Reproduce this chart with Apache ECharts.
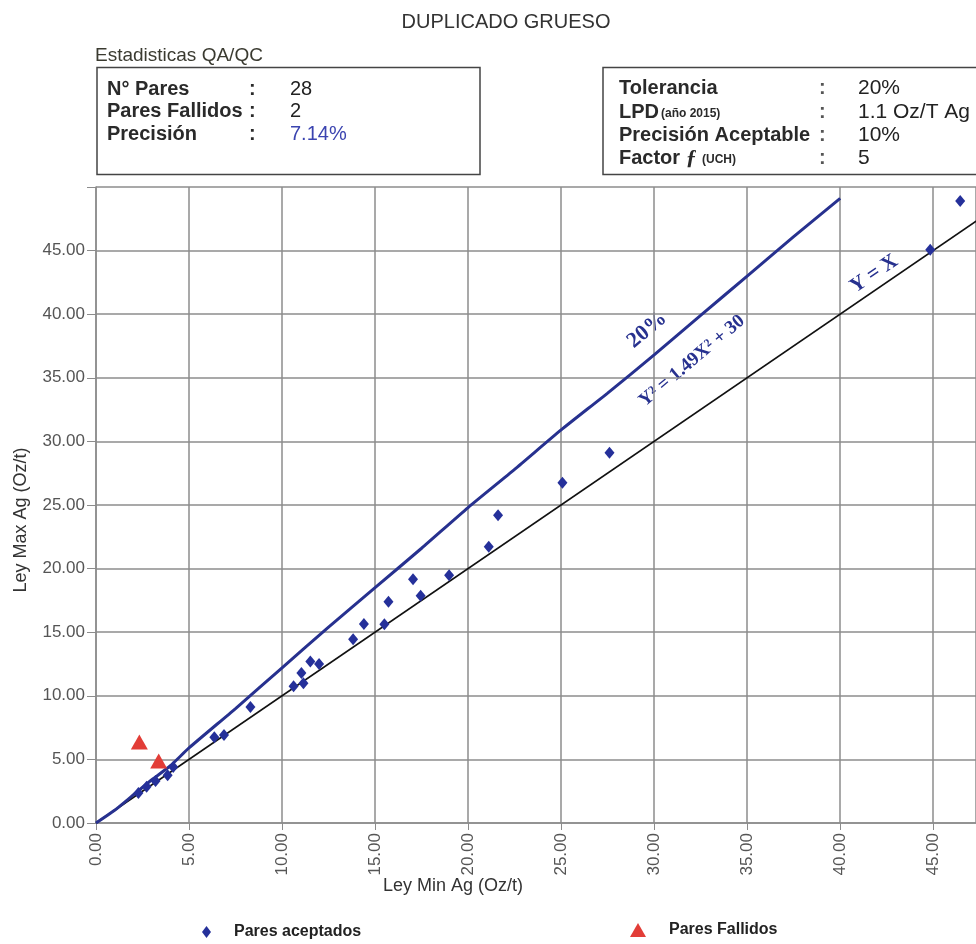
<!DOCTYPE html>
<html>
<head>
<meta charset="utf-8">
<script src="https://cdn.jsdelivr.net/npm/echarts@6/dist/echarts.min.js"></script>
<style>
  html, body { margin: 0; padding: 0; background: #fff; }
  #chart { width: 976px; height: 944px; }
</style>
</head>
<body>
<div id="chart"></div>
<script>
// pares aceptados (ley min, ley max)
var acceptedMin = [2.28, 2.72, 3.20, 3.85, 4.15, 6.36, 6.88, 8.30, 10.62, 11.15, 11.04, 11.52, 11.99,
  13.82, 14.40, 15.50, 15.72, 17.45, 17.04, 18.98, 21.11, 21.61, 25.07, 27.60, 44.84, 46.45];
var acceptedMax = [2.35, 2.85, 3.30, 3.75, 4.40, 6.75, 6.92, 9.11, 10.75, 10.98, 11.80, 12.70, 12.50,
  14.44, 15.64, 15.63, 17.40, 17.87, 19.16, 19.47, 21.71, 24.19, 26.75, 29.10, 45.06, 48.90];
// pares fallidos
var failedMin = [2.33, 3.37];
var failedMax = [6.37, 4.88];
// curva de tolerancia 20%
var tolMin = [0, 1, 2, 3, 4, 5, 7.5, 10, 12.5, 15, 17.5, 20, 22.5, 25, 27.5, 30, 32.5, 35, 37.5, 40];
var tolMax = [0, 1.0, 2.2, 3.4, 4.5, 5.9, 9.0, 12.2, 15.4, 18.5, 21.6, 24.8, 27.8, 30.9, 33.8, 36.8, 39.9, 43.0, 46.1, 49.1];
// recta Y = X
var idMin = [0, 50];
var idMax = [0, 50];

function pairs(a, b) {
  return a.map(function (v, i) { return [v, b[i]]; });
}

var navy = '#27318f';
var gridColor = '#8c8c8c';
var sans = 'Liberation Sans, Arial, sans-serif';
var serif = 'Liberation Serif, Times New Roman, serif';

var chart = echarts.init(document.getElementById('chart'));

function txt(x, y, text, font, fill, align) {
  return {
    type: 'text', x: x, y: y,
    style: { text: text, font: font, fill: fill || '#2a2a2a', align: align || 'left', verticalAlign: 'middle' }
  };
}

var deg = Math.PI / 180;

chart.setOption({
  backgroundColor: '#fff',
  animation: false,
  grid: { left: 96, top: 187, right: 0, height: 636, containLabel: false },
  xAxis: {
    type: 'value', min: 0, max: 47.3, interval: 5,
    axisLine: { show: true, lineStyle: { color: gridColor, width: 1.5 } },
    axisTick: { show: true, length: 7, lineStyle: { color: gridColor } },
    splitLine: { show: true, lineStyle: { color: gridColor, width: 1.5 } },
    axisLabel: {
      rotate: 90, margin: 10, color: '#555', fontSize: 17, fontFamily: sans,
      showMaxLabel: false,
      formatter: function (v) { return v % 5 === 0 ? v.toFixed(2) : ''; }
    }
  },
  yAxis: {
    type: 'value', min: 0, max: 50, interval: 5,
    axisLine: { show: true, lineStyle: { color: gridColor, width: 1.5 } },
    axisTick: { show: true, length: 9, lineStyle: { color: gridColor } },
    splitLine: { show: true, lineStyle: { color: gridColor, width: 1.5 } },
    axisLabel: {
      margin: 11, color: '#555', fontSize: 17, fontFamily: sans,
      formatter: function (v) { return v === 50 ? '' : v.toFixed(2); }
    }
  },
  legend: [
    {
      data: ['Pares aceptados'], left: 197, top: 919, itemWidth: 9, itemHeight: 12,
      textStyle: { fontSize: 16, fontWeight: 'bold', color: '#222', fontFamily: sans, padding: [0, 0, 0, 18] }
    },
    {
      data: ['Pares Fallidos'], left: 625, top: 917, itemWidth: 16, itemHeight: 14,
      textStyle: { fontSize: 16, fontWeight: 'bold', color: '#222', fontFamily: sans, padding: [0, 0, 0, 18] }
    }
  ],
  series: [
    {
      name: 'Y = X', type: 'line', data: pairs(idMin, idMax), symbol: 'none',
      lineStyle: { color: '#111', width: 1.6 }, z: 2, silent: true
    },
    {
      name: '20%', type: 'line', data: pairs(tolMin, tolMax), symbol: 'none', smooth: 0.2,
      lineStyle: { color: navy, width: 3 }, z: 3, silent: true
    },
    {
      name: 'Pares aceptados', type: 'scatter', data: pairs(acceptedMin, acceptedMax),
      symbol: 'diamond', symbolSize: [10, 12], itemStyle: { color: '#25309a', opacity: 1 }, z: 5
    },
    {
      name: 'Pares Fallidos', type: 'scatter', data: pairs(failedMin, failedMax),
      symbol: 'triangle', symbolSize: [17, 15], itemStyle: { color: '#e23d37', opacity: 1 }, z: 5
    }
  ],
  graphic: [
    txt(506, 22, 'DUPLICADO GRUESO', '20px ' + sans, '#333', 'center'),
    txt(95, 56, 'Estadisticas QA/QC', '19px ' + sans, '#3a3a30'),
    { type: 'rect', shape: { x: 97, y: 67.5, width: 383, height: 107 }, style: { fill: 'none', stroke: '#444', lineWidth: 1.5 } },
    txt(107, 89, 'N° Pares', 'bold 20px ' + sans),
    txt(249, 89, ':', 'bold 20px ' + sans),
    txt(290, 89, '28', '20px ' + sans, '#222'),
    txt(107, 111, 'Pares Fallidos', 'bold 20px ' + sans),
    txt(249, 111, ':', 'bold 20px ' + sans),
    txt(290, 111, '2', '20px ' + sans, '#222'),
    txt(107, 134, 'Precisión', 'bold 20px ' + sans),
    txt(249, 134, ':', 'bold 20px ' + sans),
    txt(290, 134, '7.14%', '20px ' + sans, '#3b44b0'),
    { type: 'rect', shape: { x: 603, y: 67.5, width: 400, height: 107 }, style: { fill: 'none', stroke: '#444', lineWidth: 1.5 } },
    txt(619, 88, 'Tolerancia', 'bold 20px ' + sans),
    {
      type: 'text', x: 619, y: 112,
      style: {
        text: '{b|LPD}{s|(año 2015)}', verticalAlign: 'middle', fill: '#2a2a2a',
        rich: { b: { font: 'bold 20px ' + sans, fill: '#2a2a2a' }, s: { font: 'bold 12px ' + sans, fill: '#2a2a2a', padding: [4, 0, 0, 2] } }
      }
    },
    txt(619, 135, 'Precisión Aceptable', 'bold 20px ' + sans),
    {
      type: 'text', x: 619, y: 158,
      style: {
        text: '{b|Factor }{f|ƒ}{s| (UCH)}', verticalAlign: 'middle', fill: '#2a2a2a',
        rich: {
          b: { font: 'bold 20px ' + sans, fill: '#2a2a2a' },
          f: { font: 'italic bold 22px ' + serif, fill: '#2a2a2a' },
          s: { font: 'bold 12px ' + sans, fill: '#2a2a2a', padding: [4, 0, 0, 2] }
        }
      }
    },
    txt(819, 88, ':', 'bold 20px ' + sans, '#555'),
    txt(819, 112, ':', 'bold 20px ' + sans, '#555'),
    txt(819, 135, ':', 'bold 20px ' + sans, '#555'),
    txt(819, 158, ':', 'bold 20px ' + sans, '#555'),
    txt(858, 88, '20%', '21px ' + sans, '#222'),
    txt(858, 112, '1.1 Oz/T Ag', '21px ' + sans, '#222'),
    txt(858, 135, '10%', '21px ' + sans, '#222'),
    txt(858, 158, '5', '21px ' + sans, '#222'),
    // anotaciones de las rectas
    { type: 'text', x: 647, y: 330, rotation: 40 * deg,
      style: { text: '20%', font: 'bold 22px ' + serif, fill: navy, align: 'center', verticalAlign: 'middle' } },
    { type: 'text', x: 692, y: 361, rotation: 40 * deg,
      style: { text: 'Y² = 1.49X² + 30', font: 'bold 19px ' + serif, fill: navy, align: 'center', verticalAlign: 'middle' } },
    { type: 'text', x: 874, y: 274, rotation: 34 * deg,
      style: { text: 'Y = X', font: 'bold 21px ' + serif, fill: navy, align: 'center', verticalAlign: 'middle' } },
    // nombres de ejes
    txt(453, 886, 'Ley Min Ag (Oz/t)', '18px ' + sans, '#333', 'center'),
    { type: 'text', x: 21, y: 520, rotation: 90 * deg,
      style: { text: 'Ley Max Ag (Oz/t)', font: '18px ' + sans, fill: '#333', align: 'center', verticalAlign: 'middle' } }
  ]
});
</script>
</body>
</html>
